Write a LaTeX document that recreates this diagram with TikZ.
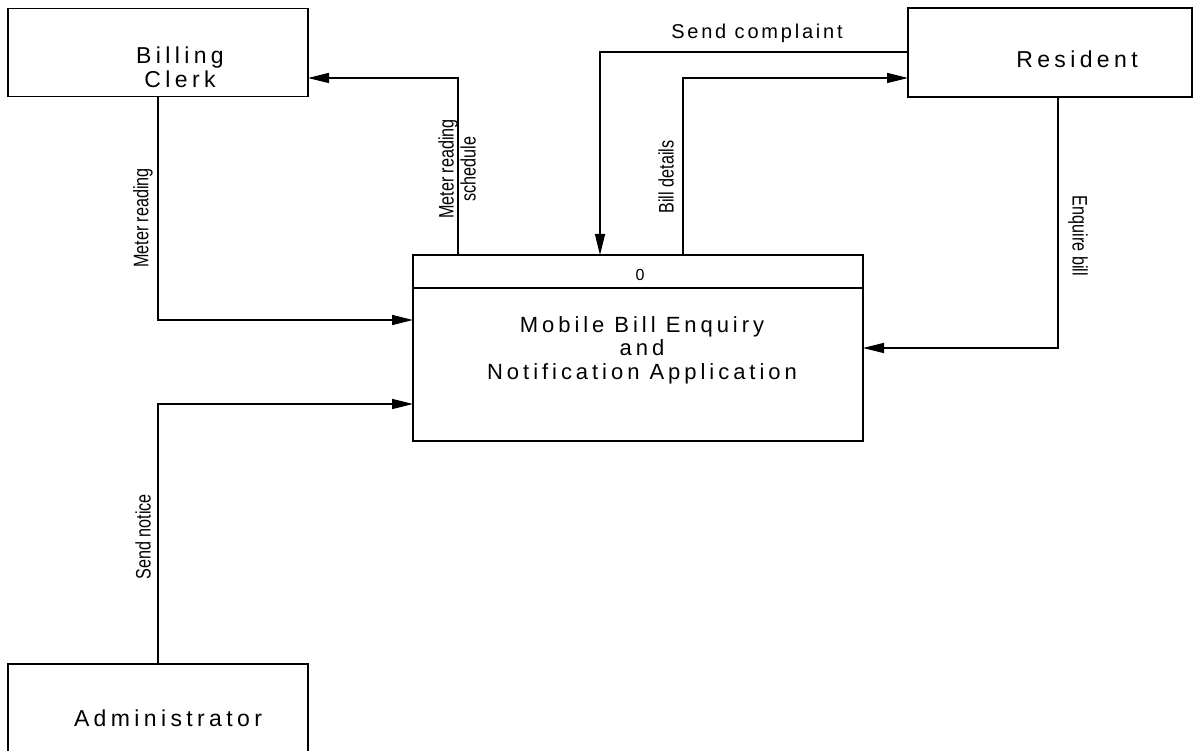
\documentclass[tikz,border=0pt]{standalone}
\usepackage{fontspec}
\setmainfont{Liberation Sans}
\newfontfamily\spacedA[LetterSpace=19]{Liberation Sans}
\newfontfamily\spacedP[LetterSpace=18]{Liberation Sans}
\newfontfamily\spacedB[LetterSpace=14]{Liberation Sans}
\usetikzlibrary{arrows.meta}
\newcommand{\narrowtxt}[1]{\scalebox{0.77}[1]{#1}}
\begin{document}
\begin{tikzpicture}[x=1pt,y=-1pt,
  box/.style={draw, line width=1.3pt, inner sep=0pt, outer sep=0pt},
  flow/.style={line width=1.3pt, -{Triangle[length=21pt,width=10pt]}},
  vlbl/.style={font=\fontsize{21}{22}\selectfont, inner sep=0pt},
  boxtxt/.style={font=\spacedA\fontsize{23}{24}\selectfont, inner sep=0pt, align=center},
  proctxt/.style={font=\spacedP\fontsize{22}{23.5}\selectfont, inner sep=0pt, align=center},
  hlbl/.style={font=\spacedB\fontsize{20}{20}\selectfont, inner sep=0pt}]
\useasboundingbox (0,0) rectangle (1203,751);
\fill[white] (0,0) rectangle (1203,751);
% boxes
\node[box, minimum width=300pt, minimum height=88pt] (billing) at (158,52.7) {};
\node[box, minimum width=284pt, minimum height=89pt] (resident) at (1050,52.5) {};
\node[box, minimum width=300pt, minimum height=94pt] (admin) at (158,711) {};
\node[box, minimum width=450pt, minimum height=186pt] (proc) at (638,348) {};
\draw[line width=1.3pt] ([yshift=-33pt]proc.north west) -- ([yshift=-33pt]proc.north east);
% box texts
\node[boxtxt] (tbilling) at (180,67) {Billing\\Clerk};
\node[boxtxt] (tresident) at (1077,59) {Resident};
\node[boxtxt] (tadmin) at (168,718) {Administrator};
\node[font=\spacedA\fontsize{16}{18}\selectfont, inner sep=0pt] (tnum) at (640,275) {0};
\node[proctxt] (tproc) at (642,350) {Mobile Bill Enquiry\\and\\Notification Application};
% helper coordinates
\coordinate (yMeter) at (0,320);
\coordinate (ySched) at (0,78);
\coordinate (xSched) at (458,0);
\coordinate (yComp) at (0,52);
\coordinate (xComp) at (600,0);
\coordinate (xBill) at (683,0);
\coordinate (xEnq) at (1058,0);
\coordinate (yNot) at (0,404);
% connectors
\draw[flow] (billing.south) |- (proc.west |- yMeter);
\draw[flow] (proc.north -| xSched) |- (billing.east |- ySched);
\draw[flow] (resident.west |- yComp) -| (proc.north -| xComp);
\draw[flow] (proc.north -| xBill) |- (resident.west |- ySched);
\draw[flow] (resident.south -| xEnq) |- (proc.east);
\draw[flow] (admin.north) |- (proc.west |- yNot);
% connector labels
\node[vlbl, rotate=90] (lmeter) at (143,218) {\narrowtxt{Meter reading}};
\node[vlbl, rotate=90, align=center] (lsched) at (457,169) {\narrowtxt{Meter reading}\\\narrowtxt{schedule}};
\node[vlbl, rotate=90] (lbill) at (666,177) {\narrowtxt{Bill details}};
\node[vlbl, rotate=-90] (lenq) at (1078,236) {\narrowtxt{Enquire bill}};
\node[vlbl, rotate=90] (lnot) at (143,537) {\narrowtxt{Send notice}};
\node[hlbl] (lcomp) at (757,33) {Send complaint};
\end{tikzpicture}
\end{document}
